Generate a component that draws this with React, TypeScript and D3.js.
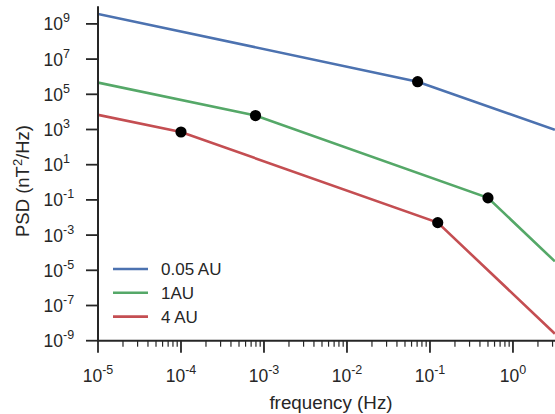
import React from "react";
import * as d3 from "d3";

const seriesNames = ["0.05 AU", "1AU", "4 AU"];
const seriesColors = ["#4C72B0", "#55A868", "#C44E52"];

const blueFreq = [1e-5, 0.071, 3.2];
const bluePsd = [3.7e9, 5.2e5, 9.5e2];
const blueKnees = [0.071];
const blueKneePsd = [5.2e5];

const greenFreq = [1e-5, 7.9e-4, 0.5, 3.2];
const greenPsd = [4.6e5, 6.2e3, 0.13, 3.2e-5];
const greenKnees = [7.9e-4, 0.5];
const greenKneePsd = [6.2e3, 0.13];

const redFreq = [1e-5, 1e-4, 0.124, 3.2];
const redPsd = [6.8e3, 7.2e2, 5.1e-3, 2.5e-9];
const redKnees = [1e-4, 0.124];
const redKneePsd = [7.2e2, 5.1e-3];

const xTickExps = [-5, -4, -3, -2, -1, 0];
const yTickExps = [-9, -7, -5, -3, -1, 1, 3, 5, 7, 9];

const W = 555;
const H = 414;
const L = 98;
const R = 564;
const T = 6.3;
const B = 340.7;
const ink = "#262626";
const font = "'Liberation Sans', Arial, sans-serif";

export default function App() {
  const x = d3.scaleLog().domain([1e-5, Math.pow(10, 0.615)]).range([L, R]);
  const y = d3.scaleLog().domain([1e-9, 1e10]).range([B, T]);
  const line = d3
    .line<[number, number]>()
    .x((d) => x(d[0]))
    .y((d) => y(d[1]));

  const series = [
    { f: blueFreq, p: bluePsd, kf: blueKnees, kp: blueKneePsd },
    { f: greenFreq, p: greenPsd, kf: greenKnees, kp: greenKneePsd },
    { f: redFreq, p: redPsd, kf: redKnees, kp: redKneePsd },
  ];

  const minor: number[] = [];
  for (let e = -5; e <= 0; e++) {
    for (let m = 2; m <= 9; m++) {
      const v = m * Math.pow(10, e);
      if (x(v) <= R) minor.push(v);
    }
  }

  const fmt = (e: number) => (e < 0 ? "-" + Math.abs(e) : String(e));

  return (
    <svg
      width={W}
      height={H}
      style={{ position: "absolute", left: 0, top: 0, background: "#fff" }}
      fontFamily={font}
    >
      <defs>
        <clipPath id="plot">
          <rect x={L} y={T} width={R - L} height={B - T} />
        </clipPath>
      </defs>
      <g clipPath="url(#plot)">
        {series.map((s, i) => (
          <path
            key={i}
            d={line(s.f.map((f, j) => [f, s.p[j]] as [number, number])) || ""}
            fill="none"
            stroke={seriesColors[i]}
            strokeWidth={2.6}
          />
        ))}
        {series.map((s, i) =>
          s.kf.map((f, j) => (
            <circle key={i + "-" + j} cx={x(f)} cy={y(s.kp[j])} r={5.6} fill="#000" />
          ))
        )}
      </g>
      {/* spines */}
      <line x1={L} x2={L} y1={T} y2={B + 1} stroke={ink} strokeWidth={2} />
      <line x1={L - 1} x2={R} y1={B} y2={B} stroke={ink} strokeWidth={2} />
      {/* y ticks */}
      {yTickExps.map((e) => {
        const yy = y(Math.pow(10, e));
        return (
          <g key={"y" + e}>
            <line x1={L - 12} x2={L} y1={yy} y2={yy} stroke={ink} strokeWidth={1.8} />
            <text x={63} y={yy + 6.5} textAnchor="end" fill={ink} fontSize={17.5}>
              10
            </text>
            <text x={63} y={yy - 1.5} textAnchor="start" fill={ink} fontSize={12.5}>
              {fmt(e)}
            </text>
          </g>
        );
      })}
      {/* x ticks */}
      {minor.map((v, i) => (
        <line key={"m" + i} x1={x(v)} x2={x(v)} y1={B} y2={B + 6} stroke={ink} strokeWidth={1.2} />
      ))}
      {xTickExps.map((e) => {
        const xx = x(Math.pow(10, e));
        return (
          <g key={"x" + e}>
            <line x1={xx} x2={xx} y1={B} y2={B + 12} stroke={ink} strokeWidth={1.8} />
            <text x={xx} y={381.5} textAnchor="middle" fill={ink} fontSize={17.5}>
              10
              <tspan fontSize={12.5} dy={-8}>
                {fmt(e)}
              </tspan>
            </text>
          </g>
        );
      })}
      {/* axis labels */}
      <text x={331} y={408.5} textAnchor="middle" fill={ink} fontSize={18.8}>
        frequency (Hz)
      </text>
      <text
        transform={`translate(29,181) rotate(-90)`}
        textAnchor="middle"
        fill={ink}
        fontSize={18.5}
      >
        PSD (nT
        <tspan fontSize={13} dy={-7}>
          2
        </tspan>
        <tspan dy={7}>/Hz)</tspan>
      </text>
      {/* legend */}
      {seriesNames.map((n, i) => {
        const ly = 269 + i * 23.8;
        return (
          <g key={"l" + i}>
            <line x1={113} x2={148} y1={ly} y2={ly} stroke={seriesColors[i]} strokeWidth={2.6} />
            <text x={161} y={ly + 6} fill={ink} fontSize={17}>
              {n}
            </text>
          </g>
        );
      })}
    </svg>
  );
}
